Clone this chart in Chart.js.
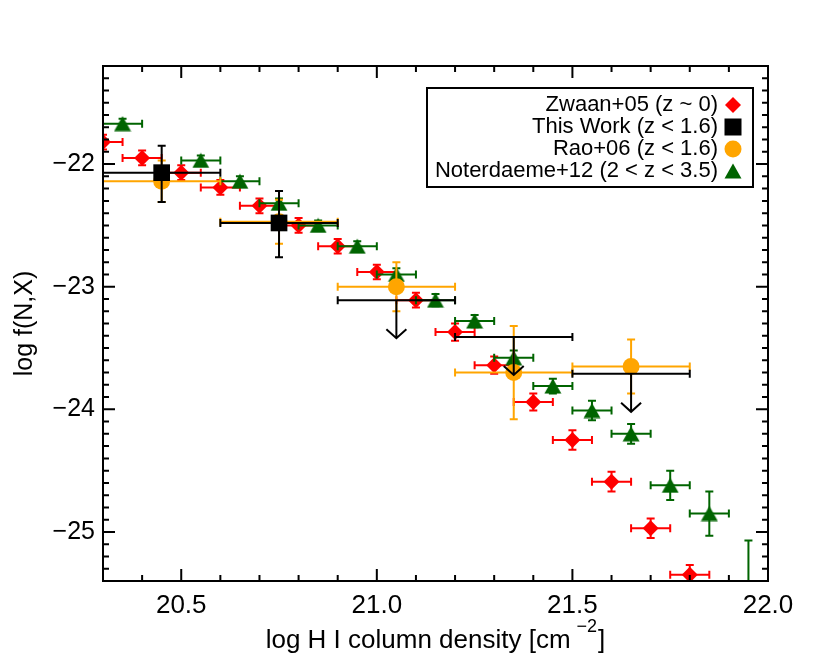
<!DOCTYPE html>
<html>
<head>
<meta charset="utf-8">
<script src="https://cdn.jsdelivr.net/npm/chart.js@4/dist/chart.umd.min.js"></script>
<style>
  html, body { margin: 0; padding: 0; background: #fff; }
  #wrap { width: 830px; height: 664px; }
</style>
</head>
<body>
<div id="wrap"><canvas id="cddf" width="830" height="664"></canvas></div>
<script>
// Zwaan+05 (z ~ 0)
const zwaanX = [20.3, 20.4, 20.5, 20.6, 20.7, 20.8, 20.9, 21.0, 21.1, 21.2, 21.3, 21.4, 21.5, 21.6, 21.7, 21.8];
const zwaanY = [-21.82, -21.95, -22.07, -22.19, -22.34, -22.50, -22.67, -22.88, -23.11, -23.37, -23.64, -23.94, -24.25, -24.59, -24.97, -25.35];
const zwaanXErr = [0.05, 0.05, 0.05, 0.05, 0.05, 0.05, 0.05, 0.05, 0.05, 0.05, 0.05, 0.05, 0.05, 0.05, 0.05, 0.05];
const zwaanYErr = [0.06, 0.06, 0.06, 0.06, 0.06, 0.06, 0.06, 0.06, 0.06, 0.07, 0.07, 0.07, 0.08, 0.08, 0.08, 0.08];

// This Work (z < 1.6), last three are upper limits
const thisWorkX = [20.45, 20.75, 21.05, 21.35, 21.65];
const thisWorkY = [-22.07, -22.48, -23.11, -23.41, -23.71];
const thisWorkXErr = [0.15, 0.15, 0.15, 0.15, 0.15];
const thisWorkYErrHi = [0.22, 0.26, 0, 0, 0];
const thisWorkYErrLo = [0.24, 0.28, 0, 0, 0];
const thisWorkLimit = [false, false, true, true, true];

// Rao+06 (z < 1.6)
const raoX = [20.45, 20.75, 21.05, 21.35, 21.65];
const raoY = [-22.14, -22.47, -23.00, -23.70, -23.65];
const raoXErr = [0.15, 0.15, 0.15, 0.15, 0.15];
const raoYErr = [0.17, 0.18, 0.20, 0.38, 0.22];

// Noterdaeme+12 (2 < z < 3.5)
const notX = [20.35, 20.55, 20.65, 20.75, 20.85, 20.95, 21.05, 21.15, 21.25, 21.35, 21.45, 21.55, 21.65, 21.75, 21.85, 21.95];
const notY = [-21.67, -21.97, -22.14, -22.32, -22.50, -22.67, -22.90, -23.11, -23.28, -23.58, -23.81, -24.01, -24.20, -24.62, -24.85, -25.55];
const notXErr = [0.05, 0.05, 0.05, 0.05, 0.05, 0.05, 0.05, 0.05, 0.05, 0.05, 0.05, 0.05, 0.05, 0.05, 0.05, 0.05];
const notYErr = [0.04, 0.04, 0.04, 0.04, 0.04, 0.04, 0.05, 0.05, 0.05, 0.06, 0.06, 0.08, 0.08, 0.12, 0.18, 0.48];

// axes
const xMajorTicks = [20.5, 21.0, 21.5, 22.0];
const yMajorTicks = [-22, -23, -24, -25];
const xTitle = 'log H I column density [cm';
const xTitleSup = '\u22122';

const FONT = '"Liberation Sans", Arial, Helvetica, sans-serif';
const RED = '#ff0000', BLACK = '#000000', ORANGE = '#ffa500', GREEN = '#006400';

function pts(xs, ys) {
    return xs.map((x, i) => ({ x: x, y: ys[i] }));
}

// triangle centred on its bounding box
function triangleImage(color) {
    const c = document.createElement('canvas');
    c.width = 18; c.height = 16;
    const g = c.getContext('2d');
    g.fillStyle = color;
    g.beginPath();
    g.moveTo(9, 0.5);
    g.lineTo(17.5, 15.5);
    g.lineTo(0.5, 15.5);
    g.closePath();
    g.fill();
    return c;
}
const greenTriangle = triangleImage(GREEN);

// error bars, drawn under each dataset's markers
const errorBars = {
    id: 'errorBars',
    beforeDatasetDraw(chart, args) {
        const ds = chart.data.datasets[args.index];
        if (!ds.xErr) return;
        const xs = chart.scales.x, ys = chart.scales.y, a = chart.chartArea;
        const ctx = chart.ctx;
        const cap = 4;
        ctx.save();
        ctx.beginPath();
        ctx.rect(a.left, a.top, a.right - a.left, a.bottom - a.top);
        ctx.clip();
        ctx.strokeStyle = ds.errColor;
        ctx.lineWidth = 2;
        ds.data.forEach((p, i) => {
            const px = xs.getPixelForValue(p.x), py = ys.getPixelForValue(p.y);
            const x0 = xs.getPixelForValue(p.x - ds.xErr[i]), x1 = xs.getPixelForValue(p.x + ds.xErr[i]);
            ctx.beginPath();
            ctx.moveTo(x0, py); ctx.lineTo(x1, py);
            ctx.moveTo(x0, py - cap); ctx.lineTo(x0, py + cap);
            ctx.moveTo(x1, py - cap); ctx.lineTo(x1, py + cap);
            if (ds.limit && ds.limit[i]) {
                const ty = ys.getPixelForValue(p.y - 0.31);
                ctx.moveTo(px, py); ctx.lineTo(px, ty);
                ctx.moveTo(px - 10, ty - 9); ctx.lineTo(px, ty); ctx.lineTo(px + 10, ty - 9);
            } else {
                const y0 = ys.getPixelForValue(p.y + ds.yErrHi[i]), y1 = ys.getPixelForValue(p.y - ds.yErrLo[i]);
                ctx.moveTo(px, y0); ctx.lineTo(px, y1);
                ctx.moveTo(px - cap, y0); ctx.lineTo(px + cap, y0);
                ctx.moveTo(px - cap, y1); ctx.lineTo(px + cap, y1);
            }
            ctx.stroke();
        });
        ctx.restore();
    }
};

// box around the plot with inward ticks on all four sides, plus the x title with its superscript
const frame = {
    id: 'frame',
    afterDatasetsDraw(chart) {
        const xs = chart.scales.x, ys = chart.scales.y, a = chart.chartArea;
        const ctx = chart.ctx;
        ctx.save();
        ctx.strokeStyle = '#000';
        ctx.lineWidth = 2;
        ctx.strokeRect(a.left, a.top, a.right - a.left, a.bottom - a.top);
        ctx.beginPath();
        for (let k = 204; k < 220; k++) {
            const v = k / 10;
            const len = (k % 5 === 0) ? 12 : 6;
            const px = xs.getPixelForValue(v);
            ctx.moveTo(px, a.bottom); ctx.lineTo(px, a.bottom - len);
            ctx.moveTo(px, a.top); ctx.lineTo(px, a.top + len);
        }
        for (let k = 213; k <= 253; k++) {
            const v = -k / 10;
            const len = (k % 10 === 0) ? 12 : 6;
            const py = ys.getPixelForValue(v);
            ctx.moveTo(a.left, py); ctx.lineTo(a.left + len, py);
            ctx.moveTo(a.right, py); ctx.lineTo(a.right - len, py);
        }
        ctx.stroke();

        // x axis title
        ctx.fillStyle = '#000';
        ctx.textAlign = 'left';
        ctx.textBaseline = 'alphabetic';
        ctx.font = '26px ' + FONT;
        const wMain = ctx.measureText(xTitle).width;
        const wBr = ctx.measureText(']').width;
        ctx.font = '18px ' + FONT;
        const wSup = ctx.measureText(xTitleSup).width;
        const gap = 6;
        const total = wMain + gap + wSup + 1 + wBr;
        let x = (a.left + a.right) / 2 - total / 2;
        const base = 648;
        ctx.font = '26px ' + FONT;
        ctx.fillText(xTitle, x, base);
        x += wMain + gap;
        ctx.font = '18px ' + FONT;
        ctx.fillText(xTitleSup, x, base - 16);
        x += wSup + 1;
        ctx.font = '26px ' + FONT;
        ctx.fillText(']', x, base);
        ctx.restore();
    }
};

// legend box in the upper right, text right-aligned with the symbol after it
const legendOrder = [3, 0, 1, 2];
const boxLegend = {
    id: 'boxLegend',
    afterDraw(chart) {
        const ctx = chart.ctx;
        ctx.save();
        ctx.strokeStyle = '#000';
        ctx.lineWidth = 2;
        ctx.strokeRect(427, 88, 326, 99);
        ctx.font = '22px ' + FONT;
        ctx.textAlign = 'right';
        ctx.textBaseline = 'middle';
        const rows = [105, 127, 149, 171];
        const mx = 733;
        legendOrder.forEach((di, r) => {
            const ds = chart.data.datasets[di];
            const y = rows[r];
            ctx.fillStyle = '#000';
            ctx.fillText(ds.label, 718, y);
            ctx.fillStyle = ds.backgroundColor;
            ctx.beginPath();
            if (ds.pointStyle === 'rectRot') {
                ctx.moveTo(mx - 8, y); ctx.lineTo(mx, y - 8); ctx.lineTo(mx + 8, y); ctx.lineTo(mx, y + 8);
                ctx.closePath(); ctx.fill();
            } else if (ds.pointStyle === 'rect') {
                ctx.fillRect(mx - 8.5, y - 8.5, 17, 17);
            } else if (ds.pointStyle === 'circle') {
                ctx.arc(mx, y, 8.5, 0, Math.PI * 2); ctx.fill();
            } else {
                ctx.drawImage(greenTriangle, mx - 9, y - 8);
            }
        });
        ctx.restore();
    }
};

const datasets = [
    {
        label: 'This Work (z < 1.6)',
        data: pts(thisWorkX, thisWorkY),
        pointStyle: 'rect',
        pointRadius: thisWorkLimit.map(l => l ? 0 : 11.8),
        backgroundColor: BLACK, borderWidth: 0,
        xErr: thisWorkXErr, yErrHi: thisWorkYErrHi, yErrLo: thisWorkYErrLo,
        limit: thisWorkLimit, errColor: BLACK, clip: 0
    },
    {
        label: 'Rao+06 (z < 1.6)',
        data: pts(raoX, raoY),
        pointStyle: 'circle', pointRadius: 8.5,
        backgroundColor: ORANGE, borderWidth: 0,
        xErr: raoXErr, yErrHi: raoYErr, yErrLo: raoYErr,
        errColor: ORANGE, clip: 0
    },
    {
        label: 'Noterdaeme+12 (2 < z < 3.5)',
        data: pts(notX, notY),
        pointStyle: greenTriangle, pointRadius: 9,
        backgroundColor: GREEN, borderWidth: 0,
        xErr: notXErr, yErrHi: notYErr, yErrLo: notYErr,
        errColor: GREEN, clip: 0
    },
    {
        label: 'Zwaan+05 (z ~ 0)',
        data: pts(zwaanX, zwaanY),
        pointStyle: 'rectRot', pointRadius: 8,
        backgroundColor: RED, borderWidth: 0,
        xErr: zwaanXErr, yErrHi: zwaanYErr, yErrLo: zwaanYErr,
        errColor: RED, clip: 0
    }
];

new Chart(document.getElementById('cddf').getContext('2d'), {
    type: 'scatter',
    data: { datasets: datasets },
    plugins: [errorBars, frame, boxLegend],
    options: {
        responsive: false,
        animation: false,
        events: [],
        layout: { padding: { top: 66, right: 62, left: 0, bottom: 0 } },
        plugins: {
            legend: { display: false },
            tooltip: { enabled: false }
        },
        scales: {
            x: {
                type: 'linear',
                min: 20.3,
                max: 22.0,
                afterBuildTicks: s => { s.ticks = xMajorTicks.map(v => ({ value: v })); },
                afterFit: s => { s.height = 83; },
                grid: { display: false, drawTicks: false },
                border: { display: false },
                ticks: {
                    color: '#000',
                    font: { family: FONT, size: 26 },
                    padding: 9,
                    maxRotation: 0,
                    autoSkip: false,
                    callback: v => v.toFixed(1)
                },
                title: { display: false }
            },
            y: {
                type: 'linear',
                min: -25.4,
                max: -21.2,
                afterBuildTicks: s => { s.ticks = yMajorTicks.map(v => ({ value: v })); },
                afterFit: s => { s.width = 103; },
                grid: { display: false, drawTicks: false },
                border: { display: false },
                ticks: {
                    color: '#000',
                    font: { family: FONT, size: 25 },
                    padding: 8,
                    autoSkip: false,
                    callback: v => '\u2212' + Math.abs(v)
                },
                title: {
                    display: true,
                    text: 'log f(N,X)',
                    color: '#000',
                    font: { family: FONT, size: 25 },
                    padding: { top: 10, bottom: 0 }
                }
            }
        }
    }
});
</script>
</body>
</html>
